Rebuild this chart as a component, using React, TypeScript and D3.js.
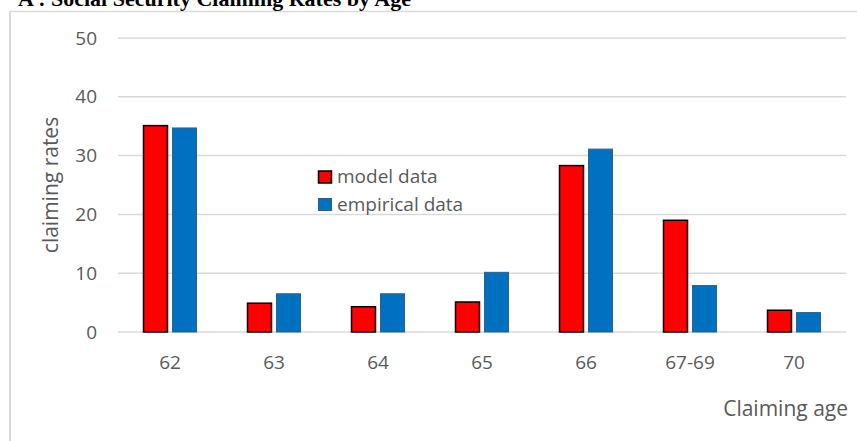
import React from "react";
import * as d3 from "d3";

const categories = ["62", "63", "64", "65", "66", "67-69", "70"];
const modelData = [35.1, 4.9, 4.3, 5.1, 28.3, 19.0, 3.7];
const empiricalData = [34.7, 6.5, 6.5, 10.15, 31.1, 7.9, 3.3];
const yTicks = [0, 10, 20, 30, 40, 50];

const W = 857;
const H = 441;
const left = 118;
const right = 846;
const top = 38;
const bottom = 332;
const font = "'Open Sans', 'Liberation Sans', sans-serif";

export default function App() {
  const x = d3.scaleBand().domain(categories).range([left, right]);
  const y = d3.scaleLinear().domain([0, 50]).range([bottom, top]);
  const barW = 24;
  const gap = 5;

  return (
    <svg
      width={W}
      height={H}
      style={{ position: "absolute", left: 0, top: 0, background: "#fff" }}
    >
      {/* chart frame, title sits half above the page like the source */}
      <line x1={10} y1={11.5} x2={W} y2={11.5} stroke="#d9d9d9" strokeWidth={1.5} />
      <line x1={10} y1={11.5} x2={10} y2={H} stroke="#d9d9d9" strokeWidth={2} />
      <text
        x={18}
        y={6}
        fontFamily="'Liberation Serif', 'Times New Roman', serif"
        fontWeight="bold"
        fontSize={22}
        fill="#000"
      >
        A : Social Security Claiming Rates by Age
      </text>

      {yTicks.map((t) => (
        <g key={t}>
          <line x1={left} x2={right} y1={y(t)} y2={y(t)} stroke="#d9d9d9" strokeWidth={1.5} />
          <text
            x={97}
            y={y(t)}
            dy="0.35em"
            textAnchor="end"
            fontFamily={font}
            fontSize={19}
            fill="#595959"
          >
            {t}
          </text>
        </g>
      ))}

      {categories.map((c, i) => {
        const cx = x(c)! + x.bandwidth() / 2;
        return (
          <g key={c}>
            <rect
              x={cx - gap / 2 - barW}
              y={y(modelData[i])}
              width={barW}
              height={y(0) - y(modelData[i])}
              fill="#ff0000"
              stroke="#000"
              strokeWidth={1.5}
            />
            <rect
              x={cx + gap / 2}
              y={y(empiricalData[i])}
              width={barW}
              height={y(0) - y(empiricalData[i])}
              fill="#0070c0"
              stroke="#2e5f8a"
              strokeWidth={1}
            />
            <text
              x={cx}
              y={362}
              dy="0.35em"
              textAnchor="middle"
              fontFamily={font}
              fontSize={19}
              fill="#595959"
            >
              {c}
            </text>
          </g>
        );
      })}

      <text
        transform={`translate(${51},${185}) rotate(-90)`}
        dy="0.35em"
        textAnchor="middle"
        fontFamily={font}
        fontSize={21}
        fill="#595959"
      >
        claiming rates
      </text>
      <text
        x={848}
        y={409}
        dy="0.35em"
        textAnchor="end"
        fontFamily={font}
        fontSize={21}
        fill="#595959"
      >
        Claiming age
      </text>

      {/* legend */}
      <rect x={318.5} y={171} width={13} height={12} fill="#ff0000" stroke="#000" strokeWidth={1.5} />
      <text x={337} y={176} dy="0.35em" fontFamily={font} fontSize={19} fill="#595959">
        model data
      </text>
      <rect x={318.5} y={198.5} width={13} height={12} fill="#0070c0" stroke="#2e5f8a" strokeWidth={1} />
      <text x={337} y={204} dy="0.35em" fontFamily={font} fontSize={19} fill="#595959">
        empirical data
      </text>
    </svg>
  );
}
